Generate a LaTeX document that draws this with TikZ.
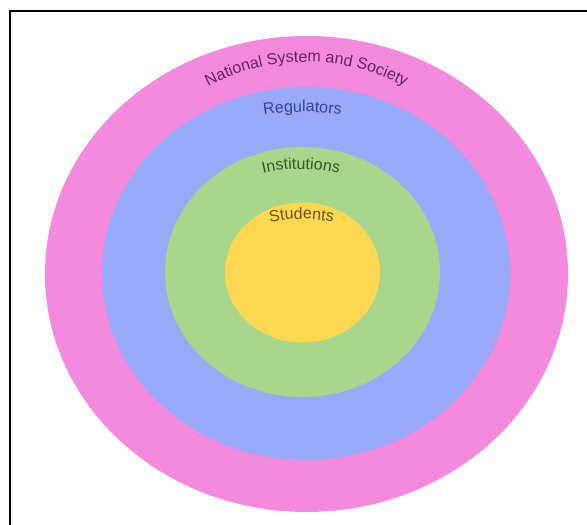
\documentclass[tikz,border=0pt]{standalone}
\usepackage{fontspec}
\setmainfont{Liberation Sans}
\usetikzlibrary{decorations.text}

\definecolor{ringpink}{RGB}{243,138,222}
\definecolor{ringblue}{RGB}{154,170,250}
\definecolor{ringgreen}{RGB}{168,214,138}
\definecolor{ringyellow}{RGB}{255,216,82}
\definecolor{txtpink}{RGB}{105,35,95}
\definecolor{txtblue}{RGB}{55,70,140}
\definecolor{txtgreen}{RGB}{50,90,40}
\definecolor{txtyellow}{RGB}{105,85,20}

\tikzset{
  ring/.style={draw=none},
  arclabel/.style 2 args={
    postaction={decorate},
    decoration={text along path, text align=center,
      text={|\fontsize{16}{16}\selectfont\color{#1}|#2}}
  },
  frameline/.style={line width=2pt, black}
}

\begin{document}
\begin{tikzpicture}[x=1pt,y=1pt]
  \useasboundingbox (0,0) rectangle (587,525);

  % outer frame, open towards right and bottom
  \coordinate (frameBL) at (9.5,-5);
  \coordinate (frameTL) at (9.5,514);
  \coordinate (frameTR) at (592,514);
  \draw[frameline] (frameBL) -- (frameTL) -- (frameTR);

  % concentric rings
  \fill[ring, ringpink]   (306.5,251)   ellipse [x radius=261.5, y radius=238];
  \fill[ring, ringblue]   (306,251.5)   ellipse [x radius=204,   y radius=186.5];
  \fill[ring, ringgreen]  (302.5,253)   ellipse [x radius=137.5, y radius=125];
  \fill[ring, ringyellow] (302.5,252.5) ellipse [x radius=77.5,  y radius=70];

  % curved ring labels
  \path[arclabel={txtpink}{National System and Society}]
    (306.5,254) ++(125:209) arc[start angle=125, end angle=55, radius=209];
  \path[arclabel={txtblue}{Regulators}]
    (302.5,163) ++(110:250) arc[start angle=110, end angle=70, radius=250];
  \path[arclabel={txtgreen}{Institutions}]
    (301,201) ++(125:155) arc[start angle=125, end angle=55, radius=155];
  \path[arclabel={txtyellow}{Students}]
    (301.5,160) ++(125:146) arc[start angle=125, end angle=55, radius=146];
\end{tikzpicture}
\end{document}
